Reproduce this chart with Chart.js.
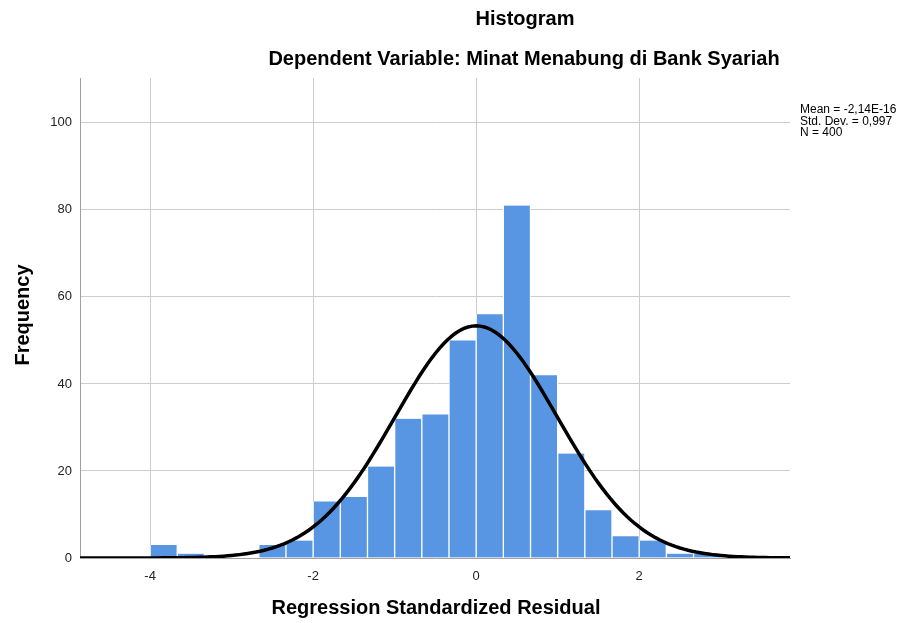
<!DOCTYPE html>
<html>
<head>
<meta charset="utf-8">
<script src="https://cdn.jsdelivr.net/npm/chart.js@4"></script>
<style>
  html, body { margin: 0; padding: 0; background: #fff; }
  #wrap { width: 910px; height: 623px; }
</style>
</head>
<body>
<div id="wrap"><canvas id="hist" width="910" height="623"></canvas></div>
<script>
/*----- data -----*/
// bin centres (bins are 1/3 wide, edges on multiples of 1/3)
const binCenters = [-23, -21, -19, -17, -15, -13, -11, -9, -7, -5, -3, -1, 1, 3, 5, 7, 9, 11, 13, 15, 17].map(v => v / 6)
const binCounts = [3, 1, 0, 0, 3, 4, 13, 14, 21, 32, 33, 50, 56, 81, 42, 24, 11, 5, 4, 1, 1]
const xTicks = [-4, -2, 0, 2]
const yTicks = [0, 20, 40, 60, 80, 100]
const statLines = ["Mean = -2,14E-16", "Std. Dev. = 0,997", "N = 400"]

// fitted normal curve from the stats in the legend
const mean = 0
const stdDev = 0.997
const nCases = 400
const binWidth = 1 / 3

/*----- functions -----*/
function normalCurve() {
    const pts = []
    for (let i = 0; i <= 180; i++) {
        const x = -4.9 + i * 0.05
        const z = (x - mean) / stdDev
        pts.push({ x: x, y: nCases * binWidth * Math.exp(-0.5 * z * z) / (stdDev * Math.sqrt(2 * Math.PI)) })
    }
    return pts
}

const textPlugin = {
    id: 'spssText',
    afterDraw(chart) {
        const ctx = chart.ctx
        ctx.save()
        ctx.fillStyle = '#000'
        ctx.textAlign = 'center'
        ctx.textBaseline = 'middle'
        ctx.font = 'bold 20px "Liberation Sans", Arial, sans-serif'
        ctx.fillText('Histogram', 525, 19)
        ctx.fillText('Dependent Variable: Minat Menabung di Bank Syariah', 524, 59)
        ctx.fillText('Regression Standardized Residual', 436, 608)
        ctx.translate(23, 315)
        ctx.rotate(-Math.PI / 2)
        ctx.fillText('Frequency', 0, 0)
        ctx.restore()

        ctx.save()
        ctx.fillStyle = '#000'
        ctx.font = '12px "Liberation Sans", Arial, sans-serif'
        ctx.textAlign = 'left'
        ctx.textBaseline = 'middle'
        statLines.forEach((s, i) => ctx.fillText(s, 800, 110 + i * 11.5))
        ctx.restore()
    }
}

/*----- chart -----*/
new Chart(document.getElementById('hist'), {
    type: 'bar',
    data: {
        datasets: [
            {
                type: 'line',
                data: normalCurve(),
                borderColor: '#000',
                borderWidth: 3.5,
                pointRadius: 0,
                tension: 0,
                order: 0
            },
            {
                type: 'bar',
                data: binCenters.map((c, i) => ({ x: c, y: binCounts[i] })),
                backgroundColor: '#5896e3',
                borderColor: '#ffffff',
                borderWidth: { left: 1, right: 1, top: 0, bottom: 0 },
                barPercentage: 1,
                categoryPercentage: 1,
                order: 1
            }
        ]
    },
    plugins: [textPlugin],
    options: {
        responsive: false,
        animation: false,
        events: [],
        layout: { padding: { top: 78, right: 120, bottom: 0, left: 0 } },
        plugins: { legend: { display: false }, tooltip: { enabled: false } },
        scales: {
            x: {
                type: 'linear',
                min: -4.86,
                max: 3.85,
                offset: false,
                afterBuildTicks: axis => { axis.ticks = xTicks.map(v => ({ value: v })) },
                afterFit: axis => { axis.height = 65 },
                grid: { color: '#cccccc', lineWidth: 1, drawTicks: false, offset: false },
                border: { color: '#a0a0a0', width: 1 },
                ticks: {
                    color: '#222',
                    padding: 11,
                    maxRotation: 0,
                    font: { family: '"Liberation Sans", Arial, sans-serif', size: 13 }
                }
            },
            y: {
                min: 0,
                max: 110.3,
                afterBuildTicks: axis => { axis.ticks = yTicks.map(v => ({ value: v })) },
                afterFit: axis => { axis.width = 80 },
                grid: { color: '#cccccc', lineWidth: 1, drawTicks: false },
                border: { color: '#a0a0a0', width: 1 },
                ticks: {
                    color: '#222',
                    padding: 8,
                    font: { family: '"Liberation Sans", Arial, sans-serif', size: 13 }
                }
            }
        }
    }
})
</script>
</body>
</html>
